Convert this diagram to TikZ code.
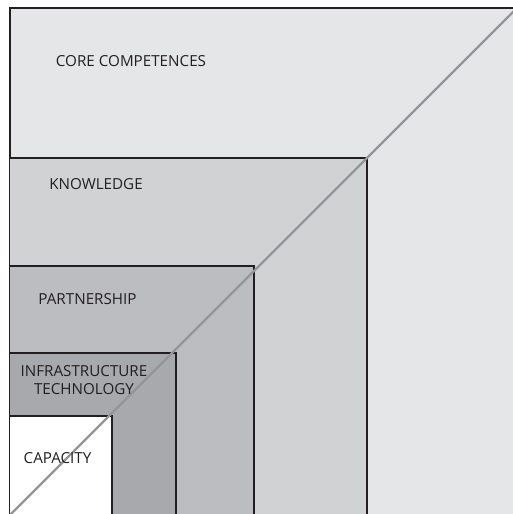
\documentclass[tikz,border=0pt]{standalone}
\usepackage{fontspec}
\setmainfont{Open Sans}
\definecolor{cc}{HTML}{E5E6E7}
\definecolor{kn}{HTML}{D1D2D4}
\definecolor{pa}{HTML}{BCBDC0}
\definecolor{it}{HTML}{A7A9AC}
\definecolor{edge}{HTML}{231F20}
\definecolor{diag}{HTML}{939598}
\begin{document}
\begin{tikzpicture}[x=1pt,y=-1pt,
  layer/.style={draw=edge,line width=1.3pt},
  lbl/.style={font=\fontsize{15.2}{17.5}\selectfont,text=edge,inner sep=0pt,align=center}]
\useasboundingbox (0,0) rectangle (513,514);
\clip (0,0) rectangle (513,514);
\coordinate (o) at (9.5,7.5);
\fill[cc] (o) rectangle (530,530);
\draw[edge,line width=2pt] (530,7.5) -- (o) -- (9.5,530);
\draw[layer,fill=kn] (9.5,530) |- (367,158) -- (367,530);
\draw[layer,fill=pa] (9.5,530) |- (254,266) -- (254,530);
\draw[layer,fill=it] (9.5,530) |- (176,353) -- (176,530);
\draw[layer,fill=white] (9.5,530) |- (112,416) -- (112,530);
\coordinate (d1) at (0,525);
\coordinate (d2) at (525,0);
\draw[diag,line width=2.2pt] (d1) -- (d2);
\node[lbl] (core) at (131,61) {CORE COMPETENCES};
\node[lbl] (know) at (96,184) {KNOWLEDGE};
\node[lbl] (part) at (87.5,299) {PARTNERSHIP};
\node[lbl] (infra) at (84,380) {INFRASTRUCTURE\\TECHNOLOGY};
\node[lbl] (cap) at (57.5,458) {CAPACITY};
\end{tikzpicture}
\end{document}
